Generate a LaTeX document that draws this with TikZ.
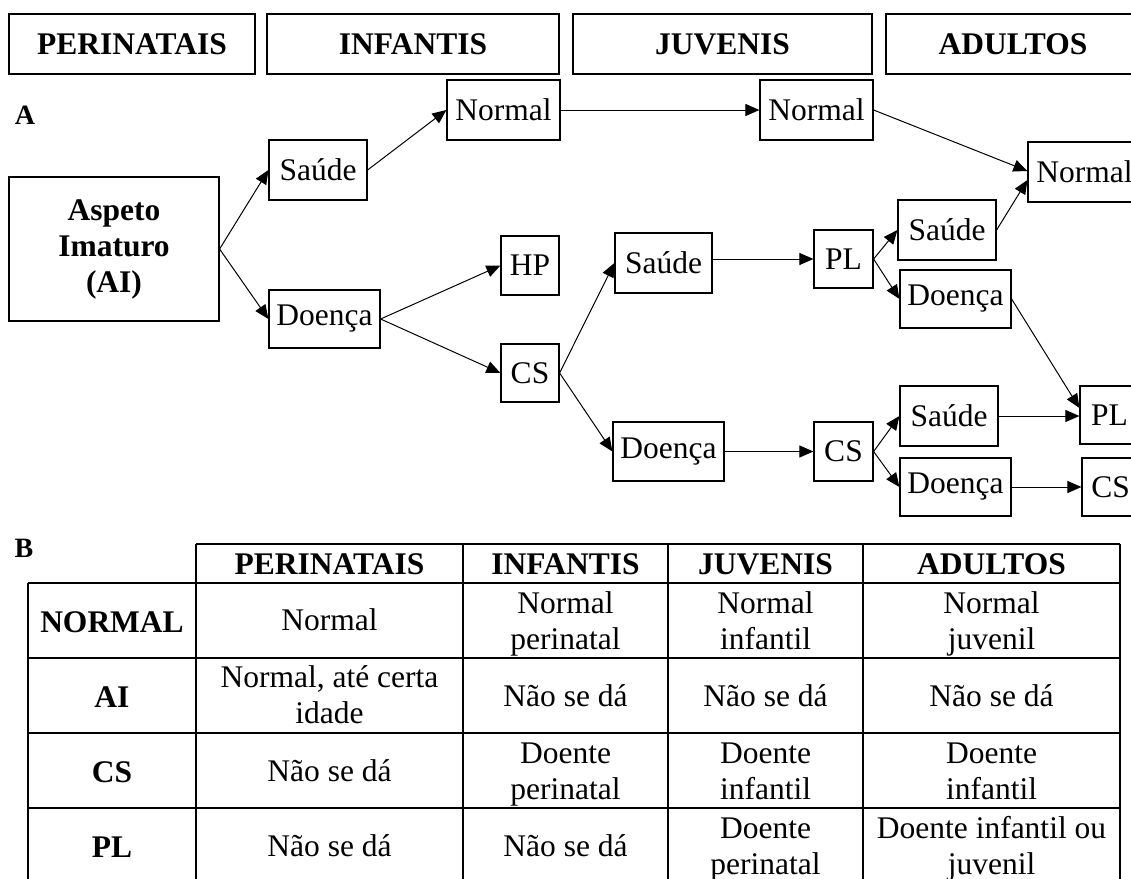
\documentclass[tikz,border=0pt]{standalone}
\usepackage{fontspec}
\setmainfont{Liberation Serif}
\usetikzlibrary{arrows.meta}
\newcommand{\bxnode}[6]{\node[box,minimum width=#4pt,minimum height=#5pt] (#1) at (#2,#3) {#6};}
\newcommand{\tl}[2]{#1\strut\\#2\strut}
\begin{document}
\begin{tikzpicture}[x=1pt,y=-1pt,
  every node/.style={font=\fontsize{31.5}{36}\selectfont},
  box/.style={draw, line width=1.2pt, inner sep=0pt, align=center},
  hdr/.style={box, font=\fontsize{31.5}{36}\selectfont\bfseries, minimum height=60pt},
  arr/.style={line width=1pt, -{Triangle[length=14pt,width=12pt]}},
  cell/.style={align=center, inner sep=0pt},
  bcell/.style={cell, font=\fontsize{31.5}{36}\selectfont\bfseries},
  lbl/.style={inner sep=0pt, font=\fontsize{28}{32}\selectfont\bfseries},
  tbl/.style={line width=1.2pt}
]
\useasboundingbox (0,0) rectangle (1131,878);
\clip (0,0) rectangle (1131,878);

% header boxes
\node[hdr, minimum width=246pt] (hP) at (132,44) {PERINATAIS};
\node[hdr, minimum width=292pt] (hI) at (413,44) {INFANTIS};
\node[hdr, minimum width=299pt] (hJ) at (722.5,44) {JUVENIS};
\node[hdr, minimum width=254pt] (hA) at (1013,44) {ADULTOS};

\node[lbl] (labA) at (25,115) {A};

% diagram nodes
\node[box, minimum width=210pt, minimum height=144pt, font=\fontsize{31.5}{36}\selectfont\bfseries] (AI) at (114,249) {Aspeto\\Imaturo\\(AI)};
\bxnode{S1}{318}{170}{98}{60}{Saúde}
\bxnode{N1}{503.5}{110}{113}{60}{Normal}
\bxnode{HP}{530}{265.5}{58}{59}{HP}
\bxnode{D1}{324.5}{319}{111}{58}{Doença}
\bxnode{CS1}{530}{373}{58}{58}{CS}
\bxnode{N2}{816.5}{110}{113}{60}{Normal}
\bxnode{N3}{1084.5}{172}{113}{60}{Normal}
\bxnode{S2}{663.5}{263}{97}{60}{Saúde}
\bxnode{PL1}{843.5}{259}{59}{58}{PL}
\bxnode{S3}{947}{230}{98}{60}{Saúde}
\bxnode{D3}{955.5}{299}{111}{58}{Doença}
\bxnode{D2}{668.5}{451.5}{111}{59}{Doença}
\bxnode{CS2}{843.5}{451.5}{59}{59}{CS}
\bxnode{S4}{949}{416}{98}{60}{Saúde}
\bxnode{D4}{955.5}{487}{111}{58}{Doença}
\bxnode{PL2}{1109.5}{415}{59}{58}{PL}
\bxnode{CS3}{1110.5}{487}{57}{58}{CS}

% connectors
\draw[arr] (AI.east) -- (S1.west);
\draw[arr] (AI.east) -- (D1.west);
\draw[arr] (S1.east) -- (N1.west);
\draw[arr] (N1.east) -- (N2.west);
\draw[arr] (N2.east) -- ([yshift=1pt]N3.west);
\draw[arr] (S3.east) -- ([yshift=-8pt]N3.west);
\draw[arr] (D1.east) -- (HP.west);
\draw[arr] (D1.east) -- (CS1.west);
\draw[arr] (CS1.east) -- (S2.west);
\draw[arr] (CS1.east) -- (D2.west);
\draw[arr] (S2.east |- PL1.west) -- (PL1.west);
\draw[arr] (PL1.east) -- (S3.west);
\draw[arr] (PL1.east) -- (D3.west);
\draw[arr] (D3.east) -- ([yshift=7pt]PL2.west);
\draw[arr] (S4.east) -- (S4.east -| PL2.west);
\draw[arr] (D2.east) -- (CS2.west);
\draw[arr] (CS2.east) -- (S4.west);
\draw[arr] (CS2.east) -- (D4.west);
\draw[arr] (D4.east) -- (CS3.west);

% table B
\node[lbl] (labB) at (24,548) {B};
\draw[tbl] (196,544) -- (1120,544);
\foreach \yy in {583,658,733,808} \draw[tbl] (28,\yy) -- (1120,\yy);
\draw[tbl] (28,583) -- (28,895);
\foreach \xx in {196,463,668,863,1120} \draw[tbl] (\xx,544) -- (\xx,895);

\node[bcell] (t01) at (329.5,567.5) {PERINATAIS\strut};
\node[bcell] (t02) at (565.5,567.5) {INFANTIS\strut};
\node[bcell] (t03) at (765.5,567.5) {JUVENIS\strut};
\node[bcell] (t04) at (991.5,567.5) {ADULTOS\strut};

\node[bcell] (t10) at (112,625.5) {NORMAL\strut};
\node[cell] (t11) at (329.5,623.5) {Normal\strut};
\node[cell] (t12) at (565.5,624.5) {\tl{Normal}{perinatal}};
\node[cell] (t13) at (765.5,624.5) {\tl{Normal}{infantil}};
\node[cell] (t14) at (991.5,624.5) {\tl{Normal}{juvenil}};

\node[bcell] (t20) at (112,700.5) {AI\strut};
\node[cell] (t21) at (329.5,698) {\tl{Normal, até certa}{idade}};
\node[cell] (t22) at (565.5,699.5) {Não se dá\strut};
\node[cell] (t23) at (765.5,699.5) {Não se dá\strut};
\node[cell] (t24) at (991.5,699.5) {Não se dá\strut};

\node[bcell] (t30) at (112,775.5) {CS\strut};
\node[cell] (t31) at (329.5,774.5) {Não se dá\strut};
\node[cell] (t32) at (565.5,774) {\tl{Doente}{perinatal}};
\node[cell] (t33) at (765.5,774) {\tl{Doente}{infantil}};
\node[cell] (t34) at (991.5,774) {\tl{Doente}{infantil}};

\node[bcell] (t40) at (112,850.5) {PL\strut};
\node[cell] (t41) at (329.5,849.5) {Não se dá\strut};
\node[cell] (t42) at (565.5,849.5) {Não se dá\strut};
\node[cell] (t43) at (765.5,849) {\tl{Doente}{perinatal}};
\node[cell] (t44) at (991.5,849) {\tl{Doente infantil ou}{juvenil}};
\end{tikzpicture}
\end{document}
